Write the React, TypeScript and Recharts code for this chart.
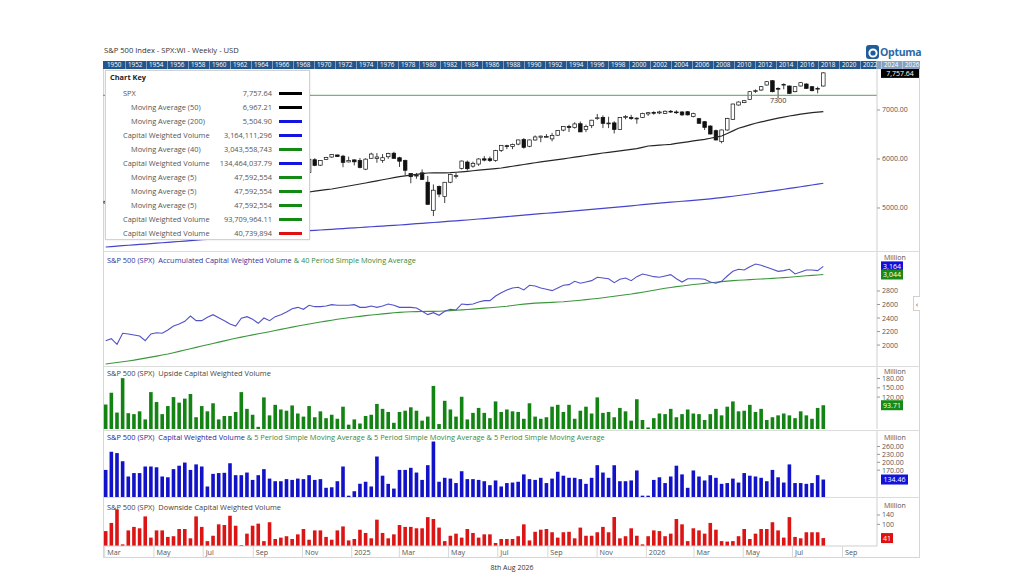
import React from 'react';
import { ComposedChart, Bar, Line, XAxis, YAxis, ReferenceLine, ReferenceDot } from 'recharts';

const FONT = '"Open Sans", "DejaVu Sans", sans-serif';

// weekly candles, first week ends 1 Mar 2024 (index 0)
const spxOpen = [
  5100, 5130, 5115, 5154, 5219, 5258, 5211, 5150, 4988, 5115,
  5142, 5221, 5305, 5315, 5284, 5353, 5433, 5459, 5471, 5572,
  5615, 5505, 5476, 5151, 5344, 5557, 5636, 5623, 5442, 5615,
  5712, 5727, 5737, 5817, 5860, 5833, 5725, 5985, 5874, 5992,
  6040, 6083, 6058, 5940, 5982, 5969, 5792, 6014, 6013, 5969,
  6046, 6118, 6026, 5969, 5705, 5658, 5718, 5527, 4953, 5439,
  5232, 5526, 5655, 5807, 5938, 5854, 5897, 6004, 6005, 5970,
  6177, 6271, 6255, 6304, 6397, 6260, 6388, 6445, 6457, 6410,
  6485, 6590, 6665, 6640, 6720, 6600, 6680, 6830, 6850, 6725,
  6737, 6600, 6850, 6850, 6830, 6850, 6920, 6950, 6940, 6930,
  6975, 6960, 6960, 6965, 6870, 6823, 6762, 6673, 6578, 6354,
  6592, 6810, 7102, 7150, 7218, 7380, 7408, 7510, 7598, 7442,
  7515, 7490, 7374, 7490, 7531, 7476, 7430, 7490,
];
const spxHigh = [
  5140, 5189, 5180, 5261, 5265, 5264, 5230, 5150, 5114, 5139,
  5239, 5325, 5341, 5315, 5375, 5441, 5506, 5524, 5570, 5656,
  5670, 5566, 5566, 5350, 5563, 5643, 5651, 5623, 5636, 5733,
  5767, 5765, 5822, 5878, 5878, 5863, 6012, 6017, 5972, 6044,
  6099, 6085, 6085, 6049, 5993, 6021, 6014, 6128, 6120, 6101,
  6127, 6147, 6044, 5987, 5705, 5715, 5787, 5655, 5481, 5459,
  5528, 5700, 5720, 5969, 5969, 5944, 6016, 6059, 6050, 6187,
  6285, 6290, 6315, 6395, 6427, 6395, 6481, 6479, 6508, 6532,
  6590, 6671, 6699, 6750, 6765, 6700, 6800, 6920, 6890, 6862,
  6770, 6853, 6895, 6901, 6850, 6945, 6960, 6975, 6985, 6990,
  7000, 6995, 6975, 6980, 6945, 6840, 6775, 6690, 6600, 6600,
  6840, 7130, 7175, 7200, 7380, 7420, 7490, 7590, 7610, 7463,
  7544, 7500, 7485, 7565, 7545, 7490, 7476, 7770,
];
const spxLow = [
  5060, 5105, 5104, 5147, 5203, 5146, 5108, 4954, 4970, 5011,
  5142, 5211, 5257, 5191, 5234, 5350, 5428, 5434, 5448, 5546,
  5497, 5390, 5306, 5120, 5331, 5540, 5560, 5402, 5406, 5604,
  5703, 5675, 5696, 5805, 5794, 5703, 5700, 5853, 5858, 5985,
  6024, 6040, 5832, 5932, 5869, 5809, 5773, 6010, 5923, 5923,
  6003, 6008, 5837, 5666, 5505, 5597, 5572, 5069, 4835, 5220,
  5101, 5506, 5603, 5786, 5767, 5822, 5861, 5952, 5940, 5943,
  6144, 6202, 6201, 6281, 6212, 6241, 6375, 6343, 6437, 6360,
  6475, 6565, 6551, 6620, 6550, 6550, 6630, 6800, 6631, 6631,
  6521, 6600, 6810, 6800, 6720, 6840, 6880, 6905, 6915, 6920,
  6940, 6920, 6880, 6890, 6850, 6728, 6592, 6500, 6380, 6320,
  6580, 6800, 7090, 7140, 7210, 7350, 7390, 7500, 7360, 7238,
  7422, 7330, 7360, 7480, 7430, 7380, 7340, 7480,
];
const spxClose = [
  5137, 5124, 5117, 5234, 5254, 5204, 5123, 4967, 5100, 5128,
  5223, 5303, 5305, 5278, 5347, 5431, 5465, 5460, 5567, 5615,
  5505, 5459, 5346, 5344, 5554, 5634, 5648, 5408, 5626, 5703,
  5738, 5751, 5815, 5864, 5808, 5729, 5995, 5870, 5969, 6032,
  6090, 6051, 5931, 5971, 5942, 5827, 5997, 6101, 6041, 6026,
  6115, 6013, 5955, 5770, 5639, 5668, 5581, 5074, 5363, 5283,
  5525, 5686, 5660, 5958, 5802, 5912, 6000, 5977, 5968, 6173,
  6279, 6260, 6297, 6389, 6238, 6389, 6450, 6467, 6460, 6482,
  6584, 6664, 6644, 6716, 6553, 6664, 6792, 6840, 6728, 6734,
  6603, 6849, 6870, 6827, 6834, 6930, 6945, 6940, 6960, 6975,
  6965, 6950, 6900, 6900, 6925, 6728, 6646, 6510, 6388, 6592,
  6830, 7122, 7163, 7190, 7374, 7395, 7476, 7578, 7374, 7425,
  7524, 7340, 7476, 7558, 7442, 7394, 7442, 7757.64,
];
const ma50 = [
  4560, 4580, 4601, 4620, 4641, 4660, 4679, 4700, 4719, 4740,
  4761, 4781, 4802, 4822, 4844, 4865, 4887, 4907, 4928, 4950,
  4970, 4991, 5011, 5033, 5054, 5076, 5096, 5117, 5139, 5159,
  5181, 5201, 5223, 5244, 5265, 5296, 5327, 5343, 5358, 5373,
  5388, 5408, 5428, 5449, 5469, 5490, 5510, 5532, 5554, 5576,
  5597, 5618, 5639, 5656, 5672, 5687, 5701, 5714, 5716, 5717,
  5718, 5720, 5729, 5739, 5749, 5760, 5771, 5782, 5793, 5805,
  5816, 5834, 5852, 5870, 5888, 5906, 5924, 5940, 5956, 5972,
  5988, 6004, 6020, 6037, 6054, 6071, 6088, 6105, 6122, 6137,
  6152, 6167, 6181, 6196, 6210, 6238, 6265, 6274, 6283, 6291,
  6300, 6317, 6334, 6351, 6368, 6385, 6402, 6424, 6446, 6469,
  6521, 6574, 6627, 6661, 6695, 6729, 6756, 6783, 6810, 6833,
  6856, 6878, 6896, 6915, 6933, 6945, 6956, 6967.21,
];
const ma200 = [
  4204, 4213, 4222, 4230, 4239, 4247, 4256, 4264, 4273, 4281,
  4290, 4298, 4307, 4316, 4325, 4334, 4343, 4352, 4361, 4371,
  4381, 4391, 4400, 4410, 4420, 4430, 4440, 4449, 4459, 4469,
  4478, 4488, 4497, 4507, 4516, 4526, 4536, 4543, 4551, 4558,
  4565, 4573, 4580, 4588, 4595, 4602, 4609, 4617, 4624, 4631,
  4638, 4646, 4653, 4662, 4670, 4679, 4687, 4696, 4704, 4713,
  4721, 4730, 4738, 4747, 4755, 4765, 4775, 4784, 4794, 4804,
  4814, 4824, 4833, 4843, 4853, 4863, 4873, 4883, 4893, 4902,
  4912, 4922, 4932, 4942, 4952, 4962, 4972, 4982, 4992, 5002,
  5013, 5023, 5034, 5045, 5056, 5067, 5078, 5088, 5098, 5108,
  5118, 5127, 5137, 5146, 5156, 5165, 5175, 5187, 5200, 5213,
  5227, 5240, 5255, 5270, 5285, 5301, 5317, 5333, 5349, 5365,
  5382, 5399, 5416, 5433, 5451, 5469, 5487, 5504.9,
];

// accumulated capital weighted volume (millions) and its 40 period average
const accumCwv = [
  2065, 2094, 2011, 2174, 2164, 2149, 2134, 2065, 2164, 2183,
  2174, 2223, 2282, 2312, 2351, 2430, 2361, 2361, 2410, 2450,
  2405, 2361, 2312, 2282, 2396, 2420, 2381, 2322, 2400, 2361,
  2420, 2450, 2489, 2538, 2558, 2529, 2588, 2568, 2568, 2578,
  2598, 2588, 2588, 2588, 2598, 2558, 2558, 2578, 2558, 2578,
  2608, 2588, 2558, 2558, 2558, 2548, 2499, 2450, 2479, 2440,
  2499, 2529, 2519, 2608, 2598, 2608, 2637, 2657, 2657, 2726,
  2775, 2815, 2844, 2855, 2815, 2884, 2874, 2844, 2825, 2805,
  2844, 2884, 2894, 2943, 2914, 2933, 2953, 3003, 2992, 2982,
  2923, 2973, 2992, 2953, 3012, 3052, 3032, 3012, 3003, 3022,
  3042, 2982, 2933, 2982, 2982, 2982, 2973, 2933, 2914, 2943,
  3022, 3091, 3121, 3111, 3160, 3200, 3180, 3151, 3121, 3091,
  3101, 3121, 3052, 3081, 3111, 3111, 3101, 3164,
];
const accumMa40 = [
  1720, 1730, 1741, 1752, 1764, 1777, 1792, 1806, 1821, 1836,
  1852, 1868, 1887, 1906, 1926, 1946, 1966, 1986, 2005, 2024,
  2043, 2062, 2081, 2100, 2117, 2134, 2150, 2166, 2182, 2198,
  2215, 2232, 2248, 2265, 2281, 2297, 2312, 2326, 2340, 2354,
  2368, 2381, 2393, 2404, 2415, 2425, 2435, 2445, 2453, 2461,
  2469, 2477, 2484, 2490, 2493, 2495, 2497, 2498, 2499, 2501,
  2505, 2510, 2515, 2520, 2526, 2532, 2539, 2546, 2553, 2560,
  2567, 2575, 2585, 2596, 2605, 2613, 2620, 2624, 2628, 2632,
  2636, 2641, 2648, 2656, 2664, 2672, 2681, 2690, 2700, 2711,
  2722, 2733, 2744, 2755, 2768, 2782, 2796, 2811, 2826, 2840,
  2852, 2864, 2875, 2886, 2895, 2904, 2913, 2922, 2930, 2938,
  2946, 2953, 2958, 2963, 2968, 2973, 2978, 2982, 2987, 2992,
  2998, 3004, 3011, 3019, 3025, 3031, 3037, 3044,
];

// weekly volumes, millions
const upsideVol = [
  96, 134, 70, 181, 68, 65, 74, 48, 136, 104,
  65, 91, 120, 102, 115, 130, 55, 91, 74, 100,
  48, 59, 59, 72, 136, 82, 63, 24, 119, 61,
  95, 80, 76, 93, 67, 57, 91, 55, 74, 52,
  63, 50, 89, 31, 48, 35, 59, 63, 98, 82,
  72, 37, 72, 76, 87, 76, 44, 57, 156, 33,
  108, 80, 57, 121, 48, 69, 85, 69, 52, 106,
  72, 80, 74, 72, 50, 100, 57, 50, 55, 89,
  95, 72, 95, 50, 76, 89, 67, 119, 69, 72,
  55, 85, 74, 44, 113, 46, 22, 52, 67, 65,
  82, 55, 65, 80, 67, 65, 46, 65, 82, 61,
  89, 106, 74, 76, 95, 72, 82, 46, 55, 61,
  67, 61, 52, 74, 61, 50, 85, 93.71,
];
const capitalVol = [
  171, 240, 235, 204, 146, 159, 159, 184, 184, 181,
  146, 143, 174, 187, 199, 171, 192, 184, 108, 156,
  159, 160, 196, 151, 151, 161, 133, 151, 174, 138,
  128, 128, 136, 133, 138, 136, 151, 133, 136, 103,
  105, 128, 184, 73, 90, 118, 126, 108, 222, 149,
  118, 100, 171, 171, 179, 161, 133, 189, 279, 126,
  141, 138, 121, 166, 136, 136, 133, 128, 113, 131,
  108, 121, 123, 126, 154, 136, 133, 141, 121, 138,
  164, 149, 141, 141, 136, 118, 141, 189, 161, 141,
  189, 128, 128, 131, 169, 73, 73, 133, 143, 121,
  146, 187, 154, 103, 169, 146, 131, 151, 141, 118,
  121, 138, 123, 159, 149, 146, 141, 128, 171, 143,
  123, 192, 121, 121, 118, 121, 151, 134.46,
];
const downsideVol = [
  71, 106, 164, 14, 74, 89, 83, 134, 43, 74,
  74, 46, 49, 80, 80, 40, 134, 89, 28, 51,
  100, 97, 137, 94, 11, 60, 94, 103, 28, 109,
  37, 43, 49, 37, 57, 80, 34, 74, 74, 46,
  34, 74, 91, 31, 37, 77, 63, 40, 120, 63,
  40, 57, 97, 89, 89, 83, 83, 131, 123, 86,
  28, 51, 60, 43, 80, 63, 43, 57, 57, 20,
  37, 37, 37, 49, 100, 31, 68, 77, 80, 66,
  43, 66, 68, 40, 86, 51, 51, 66, 89, 66,
  131, 40, 49, 83, 51, 14, 49, 74, 71, 49,
  60, 123, 100, 28, 83, 74, 60, 106, 77, 28,
  26, 28, 49, 80, 37, 60, 80, 80, 109, 74,
  43, 131, 46, 40, 66, 66, 66, 41,
];

const monthLabels = ['Mar', 'May', 'Jul', 'Sep', 'Nov', '2025', 'Mar', 'May', 'Jul', 'Sep', 'Nov', '2026', 'Mar', 'May', 'Jul', 'Sep'];
const monthDates: [number, number][] = [
  [2024, 2], [2024, 4], [2024, 6], [2024, 8], [2024, 10], [2025, 0], [2025, 2], [2025, 4],
  [2025, 6], [2025, 8], [2025, 10], [2026, 0], [2026, 2], [2026, 4], [2026, 6], [2026, 8],
];

const keyLabels = [
  'SPX', 'Moving Average (50)', 'Moving Average (200)', 'Capital Weighted Volume', 'Moving Average (40)',
  'Capital Weighted Volume', 'Moving Average (5)', 'Moving Average (5)', 'Moving Average (5)',
  'Capital Weighted Volume', 'Capital Weighted Volume',
];
const keyValues = [
  '7,757.64', '6,967.21', '5,504.90', '3,164,111,296', '3,043,558,743', '134,464,037.79',
  '47,592,554', '47,592,554', '47,592,554', '93,709,964.11', '40,739,894',
];
const keyColors = ['#000', '#000', '#1414e0', '#1414e0', '#138a13', '#1414e0', '#138a13', '#138a13', '#138a13', '#138a13', '#e01010'];
const keyIndented = [false, true, true, false, true, false, true, true, true, false, false];

const START = Date.UTC(2024, 2, 1);
const WEEK = 7 * 86400000;
const monthPos = monthDates.map(([y, m]) => (Date.UTC(y, m, 1) - START) / WEEK);

const rows = spxClose.map((c, i) => ({
  i,
  o: spxOpen[i], h: spxHigh[i], l: spxLow[i], c,
  ma50: ma50[i], ma200: ma200[i],
  acc: accumCwv[i], acc40: accumMa40[i],
  up: upsideVol[i], cv: capitalVol[i], down: downsideVol[i],
}));
const last = rows[rows.length - 1];

const X_DOMAIN: [number, number] = [-0.48, 136.5];
const W = 817;
const AXIS_W = 43;
const M = { top: 0, right: 0, bottom: 0, left: 0 };
const yTick = { fontSize: 7, fill: '#555' };

const Candle = (p: any) => {
  const { x, y, width, height, payload } = p;
  if (!payload || x == null) return null;
  const top = Math.min(y, y + height);
  const bot = Math.max(y, y + height);
  const span = payload.h - payload.l || 1;
  const py = (v: number) => top + ((payload.h - v) / span) * (bot - top);
  const cx = x + width / 2;
  const up = payload.c >= payload.o;
  const bt = py(Math.max(payload.o, payload.c));
  const bb = py(Math.min(payload.o, payload.c));
  return (
    <g>
      <line x1={cx} x2={cx} y1={top} y2={bot} stroke="#111" strokeWidth={0.8} />
      <rect x={x} y={bt} width={width} height={Math.max(bb - bt, 0.8)} fill={up ? '#fff' : '#111'} stroke="#111" strokeWidth={0.7} />
    </g>
  );
};

const Badge = (p: any) => {
  const { viewBox, text, bg, w } = p;
  if (!viewBox) return null;
  const x = viewBox.x + viewBox.width + 4;
  const y = viewBox.y;
  return (
    <g>
      <rect x={x} y={y - 5} width={w} height={10} fill={bg} />
      <text x={x + w / 2} y={y + 2.6} fontSize={7} fill="#fff" textAnchor="middle">{text}</text>
    </g>
  );
};

const MonthTick = (p: any) => {
  const { x, y, payload } = p;
  const k = monthPos.indexOf(payload.value);
  return (
    <g>
      <line x1={x - 1} x2={x - 1} y1={y} y2={y + 11} stroke="#d8d8d8" />
      <text x={x + 1.5} y={y + 8.5} fontSize={7.2} fill="#555">{monthLabels[k]}</text>
    </g>
  );
};

const hiddenX = <XAxis type="number" dataKey="i" domain={X_DOMAIN} hide allowDataOverflow />;

const rightAxis = (domain: [number, number], ticks: number[], fmt: (v: number) => string) => (
  <YAxis
    orientation="right"
    width={AXIS_W}
    domain={domain}
    ticks={ticks}
    allowDataOverflow
    interval={0}
    tick={yTick}
    tickSize={3}
    tickLine={{ stroke: '#999' }}
    axisLine={{ stroke: '#cfcfcf' }}
    tickFormatter={fmt}
  />
);

const PanelTitle = ({ top, children }: { top: number; children: React.ReactNode }) => (
  <div style={{ position: 'absolute', left: 107, top, fontSize: 7.4, lineHeight: '9px', whiteSpace: 'pre', color: '#444' }}>
    {children}
  </div>
);

const abs = (left: number, top: number): React.CSSProperties => ({ position: 'absolute', left, top });

export default function App() {
  const years = [];
  for (let k = 0; k <= 38; k++) years.push(1950 + 2 * k);

  return (
    <div style={{ position: 'absolute', left: 0, top: 0, width: 1024, height: 576, background: '#fff', fontFamily: FONT, overflow: 'hidden' }}>
      <div style={{ ...abs(104, 46), fontSize: 7.6, lineHeight: '9px', color: '#333' }}>S&amp;P 500 Index - SPX:WI - Weekly - USD</div>

      {/* logo */}
      <div style={{ ...abs(866, 45), display: 'flex', alignItems: 'center' }}>
        <svg width={13} height={14}>
          <rect x={0} y={0} width={13} height={14} rx={3} fill="#1f5d9a" />
          <circle cx={7} cy={8} r={3.6} fill="none" stroke="#fff" strokeWidth={2} />
        </svg>
        <span style={{ fontSize: 10.5, fontWeight: 700, color: '#2b6aa6', marginLeft: 1, letterSpacing: -0.3 }}>Optuma</span>
      </div>

      {/* frame */}
      <div style={{ ...abs(103, 61), width: 817, height: 497, border: '1px solid #d6d6d6', boxSizing: 'border-box' }} />
      {[251, 366, 430, 497].map((y) => (
        <div key={y} style={{ ...abs(103, y), width: 817, height: 1, background: '#dcdcdc' }} />
      ))}

      {/* year strip */}
      <div style={{ ...abs(103, 61), width: 817, height: 8, background: '#24558b', overflow: 'hidden' }}>
        {years.map((yr, k) => (
          <div key={yr} style={{ position: 'absolute', left: 3 + k * 21, top: 0, width: 20, height: 8, borderRight: '1px solid #7f9cc0', color: '#fff', fontSize: 6.3, lineHeight: '8px', paddingLeft: 1, boxSizing: 'border-box' }}>
            {yr}
          </div>
        ))}
        <div style={{ position: 'absolute', left: 773, top: 0, width: 44, height: 8, background: 'rgba(255,255,255,0.45)' }} />
      </div>

      {/* price panel */}
      <div style={abs(103, 69)}>
        <ComposedChart width={W} height={182} data={rows} margin={M}>
          {hiddenX}
          {rightAxis([4122, 7837], [5000, 6000, 7000], (v) => v.toFixed(2))}
          <ReferenceLine y={7300} stroke="#5a9e5a" strokeWidth={1} />
          <Line dataKey="ma200" type="linear" stroke="#4444cc" strokeWidth={1.2} dot={false} isAnimationActive={false} />
          <Line dataKey="ma50" type="linear" stroke="#262626" strokeWidth={1.2} dot={false} isAnimationActive={false} />
          <Bar dataKey={(d: any) => [d.l, d.h]} barSize={3.6} shape={Candle} isAnimationActive={false} />
          <ReferenceDot x={119} y={7300} r={0} fill="none" stroke="none" label={{ value: '7300', position: 'bottom', fontSize: 7.2, fill: '#333', offset: 3 }} />
          <ReferenceLine y={last.c} stroke="none" label={<Badge text="7,757.64" bg="#000" w={38} />} />
        </ComposedChart>
      </div>

      {/* chart key */}
      <div style={{ ...abs(105, 70), width: 205, height: 170, background: '#fff', border: '1px solid #d2d2d2', boxSizing: 'border-box', boxShadow: '0 0 2px rgba(0,0,0,0.12)', fontSize: 7.4, color: '#555' }}>
        <div style={{ position: 'absolute', left: 4, top: 2, fontWeight: 700, color: '#222', lineHeight: '9px' }}>Chart Key</div>
        {keyLabels.map((lab, k) => (
          <div key={k} style={{ position: 'absolute', left: 0, top: 17.5 + k * 14, width: 205, height: 9, lineHeight: '9px' }}>
            <span style={{ position: 'absolute', left: keyIndented[k] ? 25 : 17, color: '#555' }}>{lab}</span>
            <span style={{ position: 'absolute', right: 39, textAlign: 'right', color: '#555' }}>{keyValues[k]}</span>
            <span style={{ position: 'absolute', left: 173, top: 3, width: 23, height: 3, background: keyColors[k] }} />
          </div>
        ))}
      </div>

      {/* million labels (behind badges) */}
      {[253, 366.5, 433, 501].map((t) => (
        <div key={t} style={{ ...abs(884, t), fontSize: 7, lineHeight: '9px', color: '#555' }}>Million</div>
      ))}

      {/* accumulated panel */}
      <PanelTitle top={255.5}>
        <span style={{ color: '#33339a' }}>S&amp;P 500 (SPX)  Accumulated Capital Weighted Volume </span>
        <span style={{ color: '#3a8a3a' }}>&amp; 40 Period Simple Moving Average</span>
      </PanelTitle>
      <div style={abs(103, 252)}>
        <ComposedChart width={W} height={114} data={rows} margin={M}>
          {hiddenX}
          {rightAxis([1690, 3377], [2000, 2200, 2400, 2600, 2800], (v) => String(v))}
          <Line dataKey="acc40" type="linear" stroke="#3c963c" strokeWidth={1.1} dot={false} isAnimationActive={false} />
          <Line dataKey="acc" type="linear" stroke="#5252c8" strokeWidth={1.1} dot={false} isAnimationActive={false} />
          <ReferenceLine y={accumCwv[accumCwv.length - 1]} stroke="none" label={<Badge text="3,164" bg="#1010d8" w={22} />} />
          <ReferenceLine y={accumMa40[accumMa40.length - 1]} stroke="none" label={<Badge text="3,044" bg="#178a17" w={22} />} />
        </ComposedChart>
      </div>
      <div style={{ ...abs(913, 296), width: 7, height: 15, border: '1px solid #d0d0d0', borderRight: 'none', background: '#fff', fontSize: 8, lineHeight: '14px', color: '#555', textAlign: 'center', boxSizing: 'border-box' }}>‹</div>

      {/* upside panel */}
      <PanelTitle top={369}>S&amp;P 500 (SPX)  Upside Capital Weighted Volume</PanelTitle>
      <div style={abs(103, 367)}>
        <ComposedChart width={W} height={62} data={rows} margin={M}>
          {hiddenX}
          {rightAxis([17, 217], [120, 150, 180], (v) => v.toFixed(2))}
          <Bar dataKey="up" fill="#138413" barSize={3.6} isAnimationActive={false} />
          <ReferenceLine y={last.up} stroke="none" label={<Badge text="93.71" bg="#178a17" w={22} />} />
        </ComposedChart>
      </div>

      {/* capital weighted volume panel */}
      <PanelTitle top={433}>
        <span style={{ color: '#26269a' }}>S&amp;P 500 (SPX)  Capital Weighted Volume </span>
        <span style={{ color: '#3a8a3a' }}>&amp; 5 Period Simple Moving Average &amp; 5 Period Simple Moving Average &amp; 5 Period Simple Moving Average</span>
      </PanelTitle>
      <div style={abs(103, 431)}>
        <ComposedChart width={W} height={66} data={rows} margin={M}>
          {hiddenX}
          {rightAxis([68, 319], [170, 200, 230, 260], (v) => v.toFixed(2))}
          <Bar dataKey="cv" fill="#1212c8" barSize={3.6} isAnimationActive={false} />
          <ReferenceLine y={last.cv} stroke="none" label={<Badge text="134.46" bg="#1212d8" w={27} />} />
        </ComposedChart>
      </div>

      {/* downside panel */}
      <PanelTitle top={502.5}>S&amp;P 500 (SPX)  Downside Capital Weighted Volume</PanelTitle>
      <div style={abs(103, 498)}>
        <ComposedChart width={W} height={59} data={rows} margin={M}>
          <XAxis
            type="number"
            dataKey="i"
            domain={X_DOMAIN}
            ticks={monthPos}
            interval={0}
            allowDataOverflow
            height={11}
            tickLine={false}
            tickSize={0}
            tickMargin={0}
            axisLine={{ stroke: '#cfcfcf' }}
            tick={<MonthTick />}
          />
          {rightAxis([7, 213], [100, 140], (v) => String(v))}
          <Bar dataKey="down" fill="#dd1414" barSize={3.6} isAnimationActive={false} />
          <ReferenceLine y={last.down} stroke="none" label={<Badge text="41" bg="#e01010" w={12} />} />
        </ComposedChart>
      </div>

      <div style={{ ...abs(0, 563), width: 1024, textAlign: 'center', fontSize: 7, lineHeight: '9px', color: '#333' }}>8th Aug 2026</div>
    </div>
  );
}
